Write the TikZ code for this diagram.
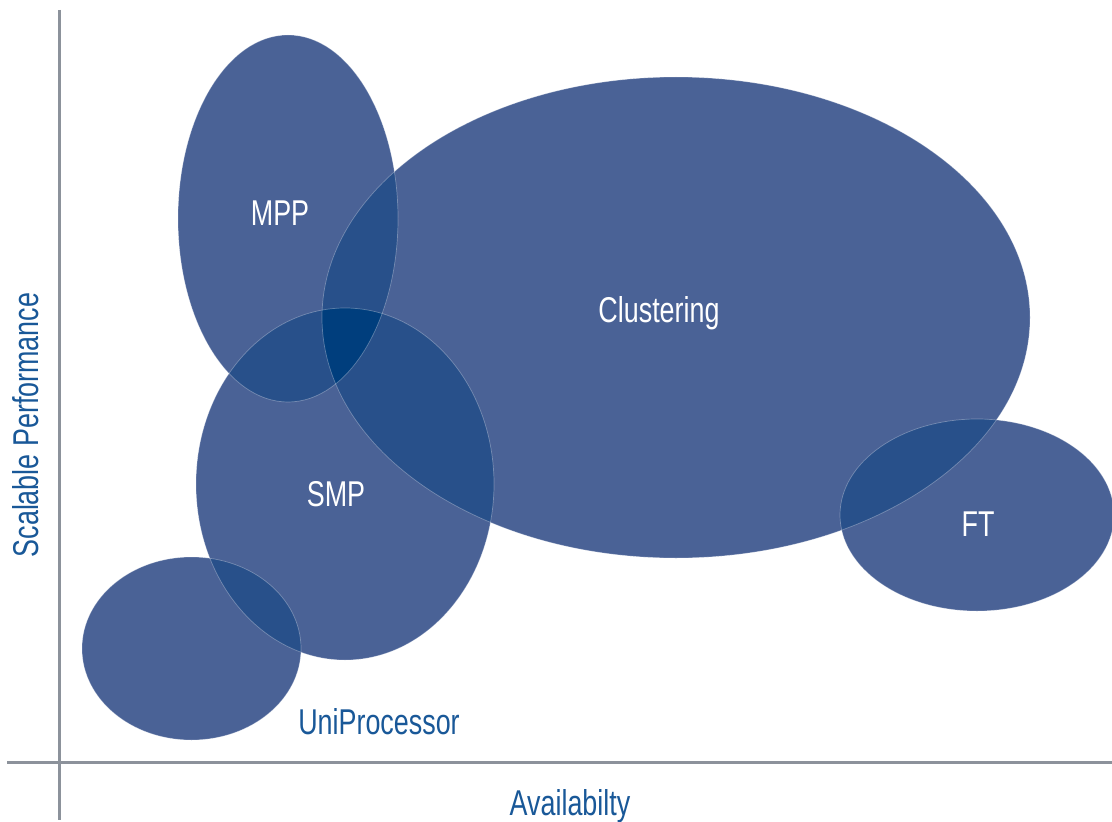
\documentclass[tikz,border=0pt]{standalone}
\usepackage{fontspec}
\setmainfont{Liberation Sans}[FakeStretch=0.75]
\definecolor{oneC}{RGB}{74,98,150}
\definecolor{twoC}{RGB}{40,80,138}
\definecolor{threeC}{RGB}{0,62,125}
\definecolor{axisC}{RGB}{140,146,155}
\definecolor{labC}{RGB}{25,88,152}
\tikzset{
  inlabel/.style={text=white, font=\fontsize{36}{40}\selectfont, inner sep=0pt},
  outlabel/.style={text=labC, font=\fontsize{36}{40}\selectfont, inner sep=0pt},
  axisline/.style={draw=axisC, line width=3bp},
  rim/.style={draw=white, draw opacity=0.3, line width=0.7bp}
}
\begin{document}
\begin{tikzpicture}[x=1bp,y=-1bp]
\useasboundingbox (0,0) rectangle (1112,822);
\def\mpp{(288,218.5) ellipse [x radius=110, y radius=183.5]}
\def\clu{(676,317.5) ellipse [x radius=354, y radius=240.5]}
\def\smp{(345,484) ellipse [x radius=149, y radius=176]}
\def\uni{(191.5,648.5) ellipse [x radius=109.5, y radius=91.5]}
\def\ftp{(977,515) ellipse [x radius=137, y radius=96]}
% axes
\coordinate (vt) at (59,10);
\coordinate (vb) at (59,820);
\coordinate (hl) at (7,762);
\coordinate (hr) at (1112,762);
\path[axisline] (vt) -- (vb);
\path[axisline] (hl) -- (hr);
% single fills
\fill[oneC] \mpp;
\fill[oneC] \clu;
\fill[oneC] \smp;
\fill[oneC] \uni;
\fill[oneC] \ftp;
% double overlaps
\begin{scope}\clip \mpp; \fill[twoC] \clu; \end{scope}
\begin{scope}\clip \mpp; \fill[twoC] \smp; \end{scope}
\begin{scope}\clip \clu; \fill[twoC] \smp; \end{scope}
\begin{scope}\clip \smp; \fill[twoC] \uni; \end{scope}
\begin{scope}\clip \clu; \fill[twoC] \ftp; \end{scope}
% triple overlap
\begin{scope}\clip \mpp; \clip \clu; \fill[threeC] \smp; \end{scope}
% rims
\path[rim] \mpp;
\path[rim] \clu;
\path[rim] \smp;
\path[rim] \uni;
\path[rim] \ftp;
% labels
\node[inlabel] (lmpp) at (280,213) {MPP};
\node[inlabel] (lclu) at (659,313) {Clustering};
\node[inlabel] (lsmp) at (336,494) {SMP};
\node[inlabel] (lft) at (978,524) {FT};
\node[outlabel] (luni) at (379,722) {UniProcessor};
\node[outlabel] (lav) at (570,806) {Availabilty};
\node[outlabel, rotate=90] (lsp) at (26,425) {Scalable Performance};
\end{tikzpicture}
\end{document}
